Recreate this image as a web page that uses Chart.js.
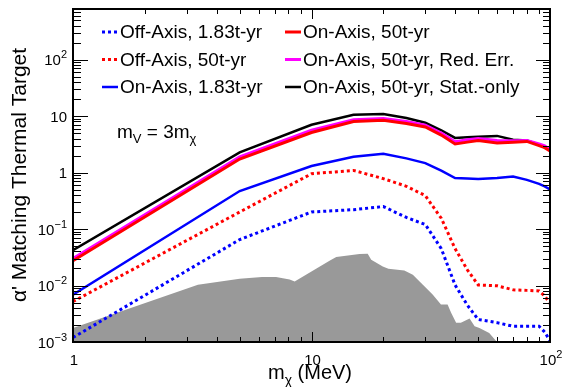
<!DOCTYPE html>
<html>
<head>
<meta charset="utf-8">
<script src="https://cdn.jsdelivr.net/npm/chart.js@4.4.1/dist/chart.umd.min.js"></script>
<style>
  html, body { margin: 0; padding: 0; background: #fff; }
  canvas { display: block; }
</style>
</head>
<body>
<canvas id="chart" width="563" height="387"></canvas>
<script>
// dark matter mass points (MeV)
const masses = [1, 5, 10, 15, 20, 25, 30, 35, 40, 45, 50, 60, 70, 80, 90, 95, 100];

// sensitivities relative to thermal target
const offAxis183 = [0.0012, 0.065, 0.20, 0.22, 0.25, 0.16, 0.12, 0.045, 0.0102, 0.0045, 0.0025, 0.0022, 0.0019, 0.0019, 0.0019, 0.0015, 0.00105];
const offAxis50 = [0.0052, 0.20, 0.95, 1.09, 0.78, 0.57, 0.39, 0.155, 0.045, 0.019, 0.0102, 0.0099, 0.0084, 0.0082, 0.0080, 0.0065, 0.0048];
const onAxis183 = [0.0069, 0.47, 1.3, 1.9, 2.15, 1.78, 1.47, 1.08, 0.80, 0.78, 0.77, 0.80, 0.85, 0.74, 0.63, 0.57, 0.50];
const onAxis50 = [0.0275, 1.73, 5.1, 8.0, 8.4, 7.4, 6.4, 4.6, 3.2, 3.45, 3.7, 3.33, 3.45, 3.55, 3.0, 2.75, 2.4];
const onAxis50RedErr = [0.030, 1.9, 5.6, 8.6, 9.0, 8.0, 6.9, 5.0, 3.5, 3.8, 4.0, 3.7, 3.65, 3.7, 3.2, 2.95, 2.55];
const onAxis50StatOnly = [0.042, 2.27, 7.0, 10.5, 10.9, 9.2, 7.6, 5.6, 4.1, 4.2, 4.3, 4.45, 3.8, 3.7, 3.1, 2.8, 2.5];

// grey excluded region (upper edge)
const excludedMass = [1, 3.34, 5, 6.2, 7.1, 8.1, 8.5, 11.9, 12.7, 15.9, 17.2, 17.8, 19.9, 21, 24.5, 26.6, 29.3, 32.2, 34.9, 37.2, 38.5, 40.4, 42.3, 46, 48.3, 50.6, 55.6, 60];
const excludedLimit = [0.00177, 0.0103, 0.0132, 0.0141, 0.0141, 0.0128, 0.0118, 0.0275, 0.0319, 0.036, 0.0365, 0.0286, 0.0218, 0.0198, 0.0185, 0.0155, 0.0103, 0.0069, 0.0046, 0.0046, 0.0033, 0.0022, 0.0022, 0.0026, 0.0019, 0.00177, 0.00144, 0.001];

// axis ticks
const xTickValues = [1, 10, 100];
const xTickLabels = ["1", "10", "10^2"];
const yTickValues = [1e-3, 1e-2, 1e-1, 1, 10, 100];
const yTickLabels = ["10^\u22123", "10^\u22122", "10^\u22121", "1", "10", "10^2"];

const FONT = '"Liberation Sans", Arial, Helvetica, sans-serif';

function pts(xs, ys) {
  return xs.map((x, i) => ({ x: x, y: ys[i] }));
}

function font(size) {
  return size + "px " + FONT;
}

// draws "base^exp" label; align = "right" or "center"
function powerLabel(ctx, label, x, y, size, align) {
  const parts = label.split("^");
  const base = parts[0];
  const exp = parts[1] || "";
  const expSize = Math.round(size * 0.7);
  ctx.font = font(size);
  const wb = ctx.measureText(base).width;
  ctx.font = font(expSize);
  const we = exp ? ctx.measureText(exp).width : 0;
  let x0 = x - wb - we;
  if (align === "center") x0 = x - (wb + we) / 2;
  ctx.textAlign = "left";
  ctx.textBaseline = "alphabetic";
  ctx.font = font(size);
  ctx.fillText(base, x0, y);
  if (exp) {
    ctx.font = font(expSize);
    ctx.fillText(exp, x0 + wb, y - size * 0.45);
  }
}

// text with subscripts: list of [text, isSub]
function richText(ctx, pieces, x, y, size) {
  let cx = x;
  ctx.textAlign = "left";
  ctx.textBaseline = "alphabetic";
  pieces.forEach(function (p) {
    const s = p[1] ? Math.round(size * 0.68) : size;
    ctx.font = font(s);
    ctx.fillText(p[0], cx, p[1] ? y + size * 0.28 : y);
    cx += ctx.measureText(p[0]).width;
  });
}

const rootStyle = {
  id: "rootStyle",
  afterDraw(chart) {
    const ctx = chart.ctx;
    const area = chart.chartArea;
    const xs = chart.scales.x;
    const ys = chart.scales.y;
    ctx.save();
    ctx.strokeStyle = "#000";
    ctx.fillStyle = "#000";

    // ticks on all four sides, pointing inwards
    ctx.lineWidth = 1;
    ctx.beginPath();
    for (let d = 0; d <= 2; d++) {
      for (let m = 1; m <= 9; m++) {
        const v = m * Math.pow(10, d);
        if (v > xs.max) break;
        const px = Math.round(xs.getPixelForValue(v)) + 0.5;
        const len = m === 1 ? 10 : 5;
        ctx.moveTo(px, area.bottom);
        ctx.lineTo(px, area.bottom - len);
        ctx.moveTo(px, area.top);
        ctx.lineTo(px, area.top + len);
      }
    }
    for (let d = -3; d <= 2; d++) {
      for (let m = 1; m <= 9; m++) {
        const v = m * Math.pow(10, d);
        if (v > ys.max) break;
        const py = Math.round(ys.getPixelForValue(v)) + 0.5;
        const len = m === 1 ? 15 : 8;
        ctx.moveTo(area.left, py);
        ctx.lineTo(area.left + len, py);
        ctx.moveTo(area.right, py);
        ctx.lineTo(area.right - len + 1, py);
      }
    }
    ctx.stroke();

    // frame
    ctx.lineWidth = 2;
    ctx.strokeRect(area.left, area.top, area.right - area.left, area.bottom - area.top);

    // tick labels
    xTickValues.forEach(function (v, i) {
      powerLabel(ctx, xTickLabels[i], xs.getPixelForValue(v) + 1, 365, 15, "center");
    });
    yTickValues.forEach(function (v, i) {
      powerLabel(ctx, yTickLabels[i], 67, ys.getPixelForValue(v) + 5.5, 15, "right");
    });

    // axis titles
    richText(ctx, [["m", false], ["\u03c7", true], [" (MeV)", false]], 268, 379, 20);
    ctx.save();
    ctx.translate(26, 175);
    ctx.rotate(-Math.PI / 2);
    ctx.font = font(21);
    ctx.textAlign = "center";
    ctx.textBaseline = "alphabetic";
    ctx.fillText("\u03b1' Matching Thermal Target", 0, 0);
    ctx.restore();

    // model annotation
    richText(ctx, [["m", false], ["V", true], [" = 3m", false], ["\u03c7", true]], 117, 138, 19);

    // legend, two columns of three
    const cols = [102, 285];
    const rows = [32, 59.5, 87];
    chart.data.datasets.forEach(function (ds, i) {
      if (ds.legendSlot === undefined) return;
      const c = cols[Math.floor(ds.legendSlot / 3)];
      const r = rows[ds.legendSlot % 3];
      ctx.save();
      ctx.strokeStyle = ds.borderColor;
      ctx.lineWidth = ds.borderWidth;
      ctx.setLineDash(ds.borderDash || []);
      ctx.beginPath();
      ctx.moveTo(c, r);
      ctx.lineTo(c + 16, r);
      ctx.stroke();
      ctx.restore();
      ctx.font = font(19);
      ctx.textAlign = "left";
      ctx.textBaseline = "middle";
      ctx.fillText(ds.label, c + 18, r + 1);
    });
    ctx.restore();
  }
};

function line(label, data, color, width, dashed, slot, order) {
  return {
    label: label,
    data: pts(masses, data),
    borderColor: color,
    borderWidth: width,
    borderDash: dashed ? [3, 3] : [],
    pointRadius: 0,
    fill: false,
    tension: 0,
    legendSlot: slot,
    order: order
  };
}

new Chart(document.getElementById("chart"), {
  type: "line",
  data: {
    datasets: [
      line("On-Axis, 50t-yr", onAxis50, "#ff0000", 3, false, 3, 1),
      line("On-Axis, 50t-yr, Red. Err.", onAxis50RedErr, "#ff00ff", 3, false, 4, 2),
      line("On-Axis, 50t-yr, Stat.-only", onAxis50StatOnly, "#000000", 2.5, false, 5, 3),
      line("On-Axis, 1.83t-yr", onAxis183, "#0000ff", 2.5, false, 2, 4),
      line("Off-Axis, 50t-yr", offAxis50, "#ff0000", 3, true, 1, 5),
      line("Off-Axis, 1.83t-yr", offAxis183, "#0000ff", 3, true, 0, 6),
      {
        label: "excluded",
        data: pts(excludedMass, excludedLimit),
        borderWidth: 0,
        borderColor: "rgba(0,0,0,0)",
        backgroundColor: "#999999",
        pointRadius: 0,
        fill: "start",
        tension: 0,
        order: 10
      }
    ]
  },
  options: {
    responsive: false,
    animation: false,
    devicePixelRatio: 1,
    layout: { padding: { top: 9, right: 13, left: 0, bottom: 0 } },
    plugins: {
      legend: { display: false },
      tooltip: { enabled: false }
    },
    scales: {
      x: {
        type: "logarithmic",
        min: 1,
        max: 100,
        grid: { display: false },
        border: { display: false },
        ticks: { display: false },
        afterFit: function (s) { s.height = 45; }
      },
      y: {
        type: "logarithmic",
        min: 1e-3,
        max: 784,
        grid: { display: false },
        border: { display: false },
        ticks: { display: false },
        afterFit: function (s) { s.width = 73; }
      }
    }
  },
  plugins: [rootStyle]
});
</script>
</body>
</html>
